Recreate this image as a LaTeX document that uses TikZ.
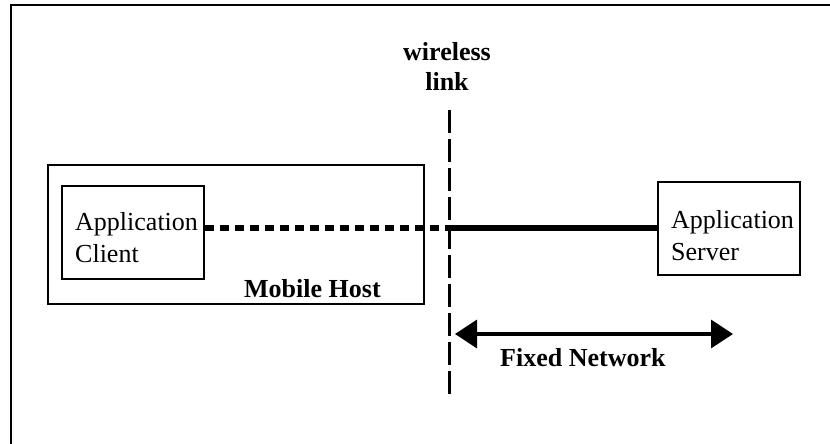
\documentclass[tikz,border=0pt]{standalone}
\usepackage{fontspec}
\setmainfont{Liberation Serif}
\usetikzlibrary{arrows.meta, positioning}

\begin{document}
\begin{tikzpicture}[x=1pt, y=-1pt,
        appbox/.style={rectangle, draw, line width=2pt, minimum width=142pt, minimum height=93pt, inner sep=0pt},
        apptext/.style={anchor=base west, align=left, inner sep=0pt, font=\fontsize{26}{32}\selectfont},
        boldtext/.style={font=\fontsize{26}{31}\selectfont\bfseries, inner sep=0pt, align=center}
    ]
        \useasboundingbox (0,0) rectangle (830,444);
        \draw[line width=2.5pt] (11,470) -- (11,5) -- (860,5);

        \node[rectangle, draw, line width=1.8pt, minimum width=376pt, minimum height=139pt] (host) at (236,234.5) {};
        \node[appbox] (client) at (133,232.5) {};
        \node[apptext] (clienttext) at (75,262) {Application\\Client};
        \node[boldtext, anchor=base west] (hostlabel) at (244,297) {Mobile Host};
        \node[appbox] (server) at (729,228) {};
        \node[apptext] (servertext) at (671,260) {Application\\Server};

        \coordinate (wltop) at (449,110);
        \coordinate (wlbot) at (449,398);
        \coordinate (air) at (449,228);
        \node[boldtext, anchor=base] (wireless) at (447,91) {wireless\\link};
        \draw[line width=3pt, dash pattern=on 23pt off 6pt] (wltop) -- (wlbot);

        \draw[line width=5.5pt, dash pattern=on 9pt off 6pt] (client.east |- air) -- (air);
        \draw[line width=5.5pt] (air) -- (server.west |- air);

        \coordinate (fnleft) at (455,334);
        \coordinate (fnright) at (733,334);
        \draw[line width=3.5pt, {Triangle[length=22pt, width=28pt]}-{Triangle[length=22pt, width=28pt]}] (fnleft) -- (fnright);
        \node[boldtext, anchor=base west] (fixed) at (500,366) {Fixed Network};
    \end{tikzpicture}
\end{document}
